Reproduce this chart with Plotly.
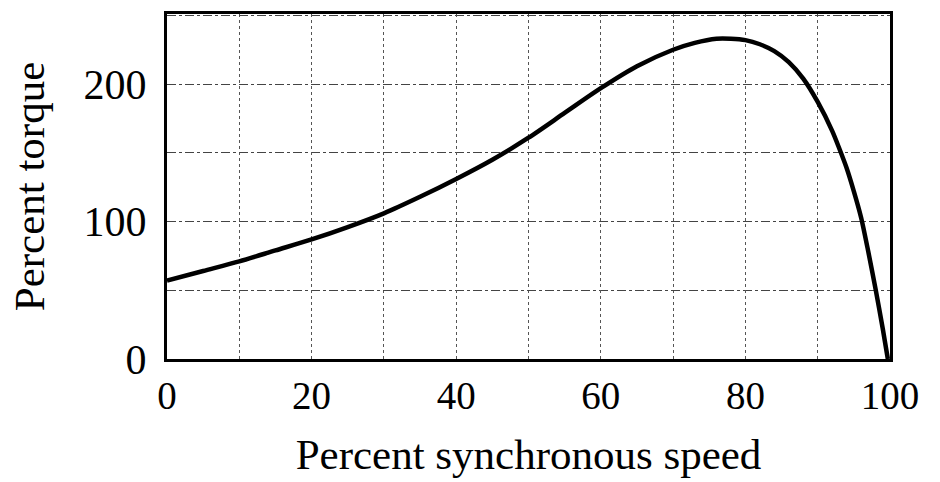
import plotly.graph_objects as go

speed = [0, 5, 10, 15, 20, 25, 30, 35, 40, 45, 50, 55, 60, 65, 70, 73, 76, 78, 80,
         82, 84, 86, 88, 90, 92, 93, 94, 95, 96, 97, 98, 99, 99.7]
torque = [57, 64, 71, 79, 87, 96, 106, 118, 131, 145, 161, 179, 197, 213, 225, 230,
          233, 233, 232, 229, 224, 216, 204, 187, 166, 153, 139, 122, 103, 78, 51, 22, 0]

x_ticks = [0, 20, 40, 60, 80, 100]
y_ticks = [0, 100, 200]

font_family = "Liberation Serif, Times New Roman, serif"

fig = go.Figure()
fig.add_trace(go.Scatter(
    x=speed, y=torque, mode="lines",
    line=dict(color="black", width=4.5, shape="spline", smoothing=0.8),
    showlegend=False, hoverinfo="skip"))

fig.update_layout(
    width=940, height=482,
    margin=dict(l=167, r=50, t=11, b=117),
    paper_bgcolor="white", plot_bgcolor="white",
    font=dict(family=font_family, color="black"),
)

fig.update_xaxes(
    range=[0, 100], tickvals=x_ticks, ticktext=[str(v) for v in x_ticks],
    tickfont=dict(size=39, family=font_family),
    showgrid=True, gridcolor="#555", gridwidth=1.3, griddash="dot",
    minor=dict(dtick=10, tick0=0, showgrid=True, gridcolor="#555", gridwidth=1.3, griddash="dot"),
    showline=True, linecolor="black", linewidth=3, mirror=True,
    ticks="", zeroline=False,
    title=dict(text="Percent synchronous speed", font=dict(size=43, family=font_family), standoff=24),
)
fig.update_yaxes(
    range=[0, 251], tickvals=y_ticks, ticktext=[str(v) for v in y_ticks],
    tickfont=dict(size=42, family=font_family), ticklabelstandoff=9,
    showgrid=True, gridcolor="#444", gridwidth=1, griddash="dashdot",
    minor=dict(dtick=50, tick0=0, showgrid=True, gridcolor="#444", gridwidth=1, griddash="dashdot"),
    showline=True, linecolor="black", linewidth=3, mirror=True,
    ticks="", zeroline=False,
    title=dict(text="Percent torque", font=dict(size=43, family=font_family), standoff=26),
)

fig.write_html("out.html")
